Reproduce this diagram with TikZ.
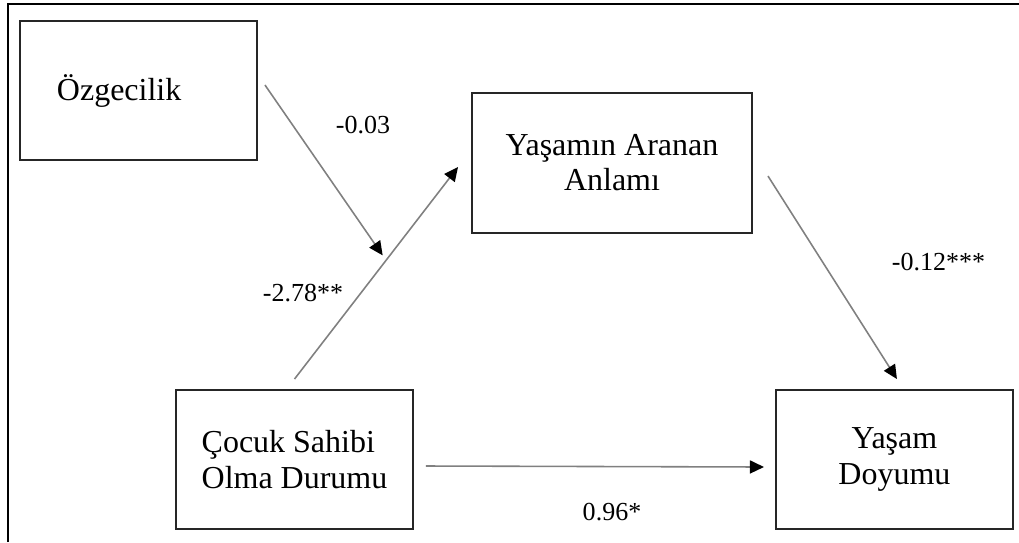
\documentclass[tikz,border=0pt]{standalone}
\usepackage{fontspec}
\setmainfont{Liberation Serif}
\usepackage{tikz}
\usetikzlibrary{arrows.meta, positioning}
\tikzstyle{box} = [rectangle, minimum width=2.37cm, minimum height=1.39cm, draw=black!85, line width=0.55pt, font={\fontsize{9.1pt}{10pt}\selectfont}]
\tikzstyle{arrow} = [draw=gray, line width=0.45pt, -{Triangle[length=0.14cm, width=0.13cm, color=black]}]
\tikzstyle{coef} = [font={\fontsize{7.4pt}{8pt}\selectfont}]
\tikzstyle{frame} = [line width=0.75pt, draw=black]

\begin{document}
\begin{tikzpicture}
    \useasboundingbox (0,0) rectangle (10.19,-5.42);
    \draw [frame] (0.08,-5.42) |- (10.19,-0.04);

    \node (ozgecilik) [box, inner xsep=0.37cm, text width=1.63cm, align=left] at (1.385,-0.905) {Özgecilik};
    \node (cocuk) [box, align=left] at (2.945,-4.595) {Çocuk Sahibi\\Olma Durumu};
    \node (doyumu) [box, right=3.61cm of cocuk, align=center] {Yaşam\\Doyumu};
    \node (anlami) [box, minimum width=2.8cm, minimum height=1.4cm, align=center] at (6.12,-1.63) {Yaşamın Aranan\\Anlamı};

    \coordinate[above=0.10cm of cocuk.north] (c1);
    \coordinate[left=0.13cm of anlami.west, yshift=-0.04cm] (c2);
    \coordinate[right=0.07cm of ozgecilik.east, yshift=0.055cm] (c3);
    \coordinate[right=0.15cm of anlami.east, yshift=-0.13cm] (c4);
    \coordinate[above=0.10cm of doyumu.north, xshift=0.025cm] (c5);
    \coordinate[right=0.12cm of cocuk.east, yshift=-0.065cm] (c6);
    \coordinate[left=0.11cm of doyumu.west, yshift=-0.075cm] (c7);

    \draw [arrow] (c1) -- coordinate[pos=0.56] (mod) (c2);
    \draw [arrow, shorten >=0.06cm] (c3) -- (mod);
    \draw [arrow] (c4) -- (c5);
    \draw [arrow] (c6) -- (c7);

    \node (b1) [coef] at (3.63,-1.25) {-0.03};
    \node (b2) [coef] at (3.03,-2.93) {-2.78**};
    \node (b3) [coef] at (9.385,-2.62) {-0.12***};
    \node (b4) [coef] at (6.12,-5.12) {0.96*};
\end{tikzpicture}
\end{document}
